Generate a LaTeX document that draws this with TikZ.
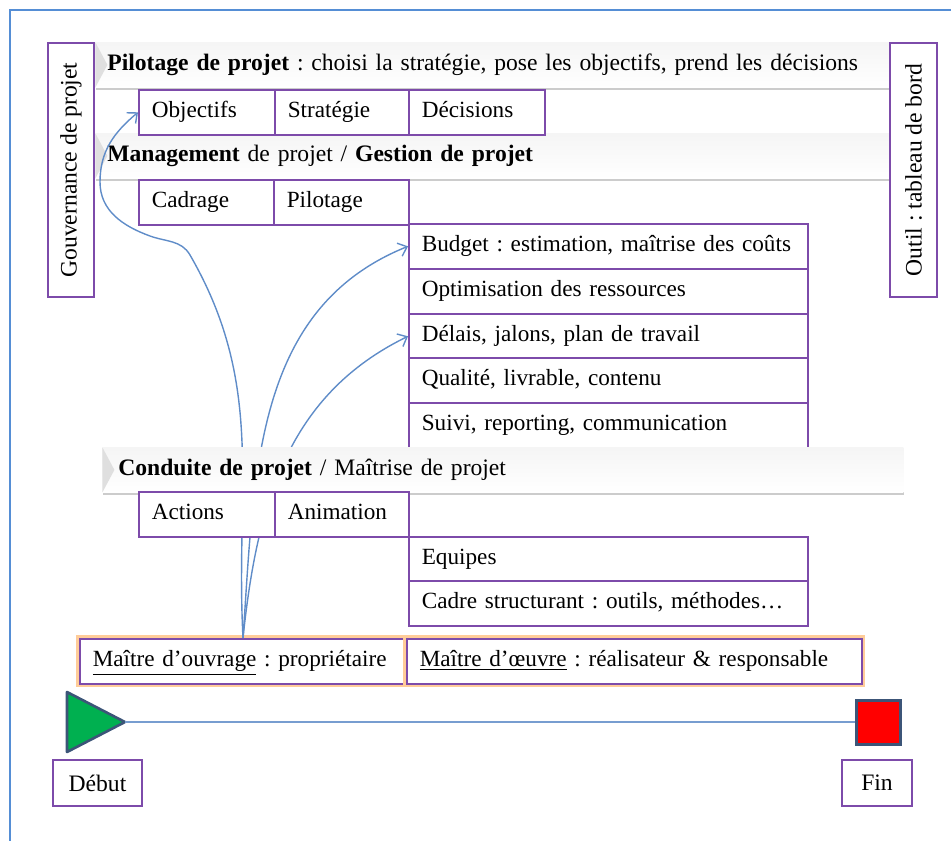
\documentclass[tikz,border=0pt]{standalone}
\usepackage{fontspec}
\setmainfont{Liberation Serif}
\usetikzlibrary{positioning,arrows.meta,shadows}
\frenchspacing

\definecolor{cellline}{RGB}{125,75,170}
\definecolor{arrowblue}{RGB}{95,140,200}
\definecolor{frameblue}{RGB}{85,142,213}
\definecolor{slateline}{RGB}{60,85,120}
\definecolor{startgreen}{RGB}{0,176,80}

\tikzset{
  cell/.style={draw=cellline, line width=0.8pt, fill=white, anchor=north west,
    inner xsep=6.5pt, inner ysep=0pt, text width=#1, minimum height=22.5pt,
    text height=8pt, text depth=2.5pt,
    align=left, font=\fontsize{11.6}{13}\selectfont},
  band/.style={anchor=north west, inner xsep=6pt, inner ysep=0pt, text width=#1,
    minimum height=22.5pt, text height=8pt, text depth=2.5pt,
    align=left, font=\fontsize{11.8}{13}\selectfont,
    top color=gray!8, bottom color=white,
    drop shadow={shadow xshift=0.5pt, shadow yshift=-1.5pt, opacity=0.4, fill=gray},
    path picture={\fill[gray!25] (path picture bounding box.north west)
      -- ([xshift=6pt]path picture bounding box.west)
      -- (path picture bounding box.south west) -- cycle;}},
  sidebox/.style={draw=cellline, line width=0.8pt, fill=white, rotate=90,
    minimum width=127pt, minimum height=23pt, inner sep=0pt,
    font=\fontsize{11.8}{13}\selectfont},
  glow/.style={preaction={draw=orange!40, line width=3.5pt}},
  link/.style={draw=arrowblue, line width=0.7pt, -{Straight Barb[length=4pt,width=7pt]}},
  tag/.style={draw=cellline, line width=0.8pt, fill=white, inner sep=0pt,
    font=\fontsize{11.8}{13}\selectfont}
}

\begin{document}
\begin{tikzpicture}[x=0.5pt, y=0.5pt]
\useasboundingbox (0,0) rectangle (951,-840);

% cadre
\draw [frameblue, line width=1pt] (10,-10) rectangle (970,-860);

% niveaux pilotage et management
\node [band=385pt] (pilband) at (95,-42) {\textbf{Pilotage de projet} : choisi la strat\'egie, pose les objectifs, prend les d\'ecisions};
\node [band=385pt] (mgtband) at (95,-133) {\textbf{Management} de projet / \textbf{Gestion de projet}};

\node [cell=55pt] (obj) at (138,-89) {Objectifs};
\node [cell=54pt] (strat) at (274,-89) {Strat\'egie};
\node [cell=55pt] (deci) at (408,-89) {D\'ecisions};

\node [cell=54.5pt] (cad) at (138,-179) {Cadrage};
\node [cell=54.5pt] (pil) at (273,-179) {Pilotage};

\node [cell=186.5pt] (budget) at (408,-223) {Budget : estimation, ma\^itrise des co\^uts};
\node [cell=186.5pt] (optim) at (408,-268) {Optimisation des ressources};
\node [cell=186.5pt] (delais) at (408,-313) {D\'elais, jalons, plan de travail};
\node [cell=186.5pt] (qual) at (408,-357) {Qualit\'e, livrable, contenu};
\node [cell=186.5pt] (suivi) at (408,-402) {Suivi, reporting, communication};

% maitrise d'ouvrage / d'oeuvre
\node [cell=150.5pt, glow] (mo) at (79,-638) {\underline{Ma\^itre d’ouvrage} : propri\'etaire};
\node [cell=214.5pt, glow] (moe) at (406,-638) {\underline{Ma\^itre d’\oe uvre} : r\'ealisateur \& responsable};

\coordinate (src) at ([xshift=82pt]mo.north west);

\draw [link] (src) to[out=93, in=-60] (190,-255) to[out=120, in=-20] (150,-236)
  to[out=160, in=-90] (100,-182) to[out=90, in=-140] (obj.west);
\draw [link] (src) to[out=86, in=-158] (budget.west);
\draw [link] (src) to[out=84, in=-154] (delais.west);

% niveau conduite
\node [band=384.5pt, inner xsep=8pt] (condband) at (102,-447) {\textbf{Conduite de projet} / Ma\^itrise de projet};

\node [cell=55pt] (actions) at (138,-491) {Actions};
\node [cell=54pt] (anim) at (274,-491) {Animation};
\node [cell=186.5pt] (equipes) at (408,-536) {Equipes};
\node [cell=186.5pt] (cadre) at (408,-580) {Cadre structurant : outils, m\'ethodes\ldots};

% cotes
\node [sidebox] (gouv) at (71,-170) {Gouvernance de projet};
\node [sidebox, minimum height=23.5pt] (outil) at (913.5,-170) {Outil : tableau de bord};

% ligne de temps
\draw [draw=slateline, line width=1.3pt, fill=startgreen, line join=round]
  (67,-692) -- (125,-722) -- (67,-752) -- cycle;
\coordinate (tip) at (125,-722);
\node [draw=slateline, line width=1.5pt, fill=red, minimum size=22pt] (stop) at (878,-722) {};
\draw [arrowblue!85, line width=0.8pt] (tip) -- (stop.west);

\node [tag, minimum width=44.5pt, minimum height=23pt] (debut) at (97.5,-783) {D\'ebut};
\node [tag, minimum width=35pt, minimum height=23pt] (fin) at (877,-783) {Fin};

\end{tikzpicture}
\end{document}
